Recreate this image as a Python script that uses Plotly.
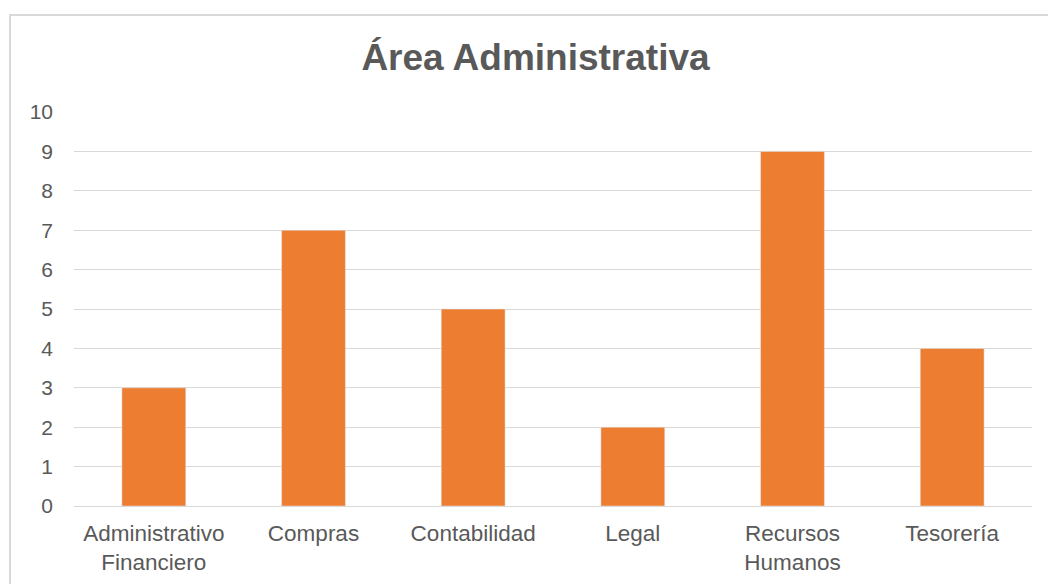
import plotly.graph_objects as go

categories = ["Administrativo<br>Financiero", "Compras", "Contabilidad", "Legal", "Recursos<br>Humanos", "Tesorería"]
values = [3, 7, 5, 2, 9, 4]
y_ticks = list(range(0, 11))

W, H = 1048, 584
L, R, T, B = 74, 16, 112, 78
pw = W - L - R
ph = H - T - B

fig = go.Figure(go.Bar(x=categories, y=values, marker_color="#ED7D31", width=0.4))

def px_x(x):
    return (x - L) / pw

def px_y(y):
    return (H - B - y) / ph

fig.add_shape(type="rect", xref="paper", yref="paper",
              x0=px_x(10), x1=px_x(1060), y0=px_y(600), y1=px_y(15),
              line=dict(color="#d9d9d9", width=2), fillcolor="rgba(0,0,0,0)", layer="below")

fig.update_layout(
    width=W, height=H,
    margin=dict(l=L, r=R, t=T, b=B),
    paper_bgcolor="white", plot_bgcolor="white",
    font=dict(family="Liberation Sans, Arial", color="#595959", size=21),
    title=dict(text="<b>Área Administrativa</b>", x=535.5 / W, xanchor="center", y=1 - 57 / H, yanchor="middle",
               font=dict(size=37, color="#595959")),
    showlegend=False,
    bargap=0.6,
)
fig.update_yaxes(range=[0, 10], tickvals=y_ticks, showgrid=True, gridcolor="#d9d9d9", gridwidth=1,
                 zeroline=True, zerolinecolor="#d9d9d9", zerolinewidth=1, showline=False,
                 ticks="", ticklabelstandoff=20, fixedrange=True, tickfont=dict(size=21), automargin=False)
fig.update_xaxes(showline=False, ticks="", ticklabelstandoff=11, fixedrange=True, tickangle=0,
                 tickfont=dict(size=22.5), automargin=False)

fig.write_html("out.html")
